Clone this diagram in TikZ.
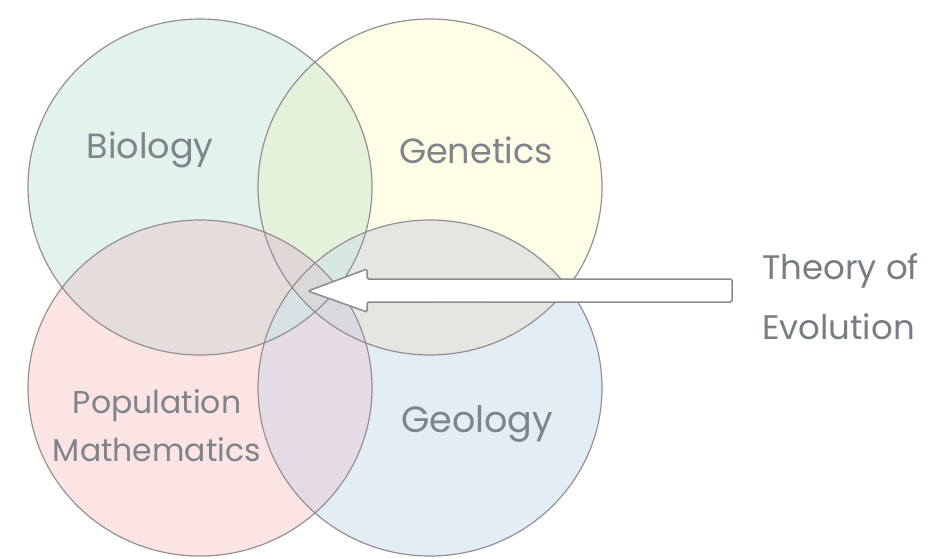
\documentclass[tikz,border=0pt]{standalone}
\usepackage{fontspec}
\setmainfont{Poppins}
\usetikzlibrary{calc}
\definecolor{cB}{HTML}{E2F3EC}
\definecolor{cG}{HTML}{FEFEE6}
\definecolor{cP}{HTML}{FDE4E4}
\definecolor{cE}{HTML}{E3EDF5}
\definecolor{cBG}{HTML}{E5F1DA}
\definecolor{cBP}{HTML}{E5DCDC}
\definecolor{cGE}{HTML}{E5E5E2}
\definecolor{cPE}{HTML}{E4DBE5}
\definecolor{cBE}{HTML}{D9E6E6}
\definecolor{cGP}{HTML}{DDDADA}
\definecolor{cBGP}{HTML}{DFD8D6}
\definecolor{cBGE}{HTML}{D6E8E0}
\definecolor{cBPE}{HTML}{D6E2E4}
\definecolor{cGPE}{HTML}{DCD8DF}
\definecolor{cAll}{HTML}{D9D9D9}
\definecolor{edge}{HTML}{958F91}
\definecolor{txt}{HTML}{7E848A}
\definecolor{arrowedge}{HTML}{8C8A8C}
\def\vB{(200,187) ellipse (172 and 168)}
\def\vG{(430,187) ellipse (172 and 168)}
\def\vP{(200,388) ellipse (172 and 168)}
\def\vE{(430,388) ellipse (172 and 168)}
\begin{document}
\begin{tikzpicture}[x=1pt,y=-1pt,
  lbl/.style={text=txt,font=\fontsize{35}{42}\selectfont,inner sep=0pt},
  lblsmall/.style={text=txt,font=\fontsize{31.5}{48}\selectfont,inner sep=0pt,align=center},
  lblside/.style={text=txt!95!black,font=\fontsize{34}{60}\selectfont,inner sep=0pt,align=left},
  ring/.style={draw=edge,line width=1.2pt}]
\useasboundingbox (0,0) rectangle (939,558);
% single fills
\fill[cB] \vB; \fill[cG] \vG; \fill[cP] \vP; \fill[cE] \vE;
% pairwise
\begin{scope}\clip \vB; \fill[cBG] \vG; \end{scope}
\begin{scope}\clip \vB; \fill[cBP] \vP; \end{scope}
\begin{scope}\clip \vG; \fill[cGE] \vE; \end{scope}
\begin{scope}\clip \vP; \fill[cPE] \vE; \end{scope}
\begin{scope}\clip \vB; \fill[cBE] \vE; \end{scope}
\begin{scope}\clip \vG; \fill[cGP] \vP; \end{scope}
% triples
\begin{scope}\clip \vB; \clip \vG; \fill[cBGP] \vP; \end{scope}
\begin{scope}\clip \vB; \clip \vG; \fill[cBGE] \vE; \end{scope}
\begin{scope}\clip \vB; \clip \vP; \fill[cBPE] \vE; \end{scope}
\begin{scope}\clip \vG; \clip \vP; \fill[cGPE] \vE; \end{scope}
% all four
\begin{scope}\clip \vB; \clip \vG; \clip \vP; \fill[cAll] \vE; \end{scope}
% outlines
\draw[ring] \vB; \draw[ring] \vG; \draw[ring] \vP; \draw[ring] \vE;
% labels
\node[lbl] (biology) at (150,150) {Biology};
\node[lbl] (genetics) at (476,150) {Genetics};
\node[lblsmall] (popmath) at (157,426) {Population\\Mathematics};
\node[lbl,font=\fontsize{36.5}{42}\selectfont] (geology) at (477,424) {Geology};
\node[lblside,anchor=west] (theory) at (762,297) {Theory of\\Evolution};
% arrow
\coordinate (tail) at (732,290.5);
\coordinate (tip) at (308,291);
\fill[black!12,rounded corners=1.5pt,xshift=1.5pt,yshift=-1.5pt]
  ($(tail)+(0,-11.5)$) -- (367,279) -- (367,269) -- (tip) -- (367,312) -- (367,302) -- ($(tail)+(0,11.5)$) -- cycle;
\filldraw[fill=white,draw=arrowedge,line width=1.5pt,rounded corners=1.5pt]
  ($(tail)+(0,-11.5)$) -- (367,279) -- (367,269) -- (tip) -- (367,312) -- (367,302) -- ($(tail)+(0,11.5)$) -- cycle;
\end{tikzpicture}
\end{document}
